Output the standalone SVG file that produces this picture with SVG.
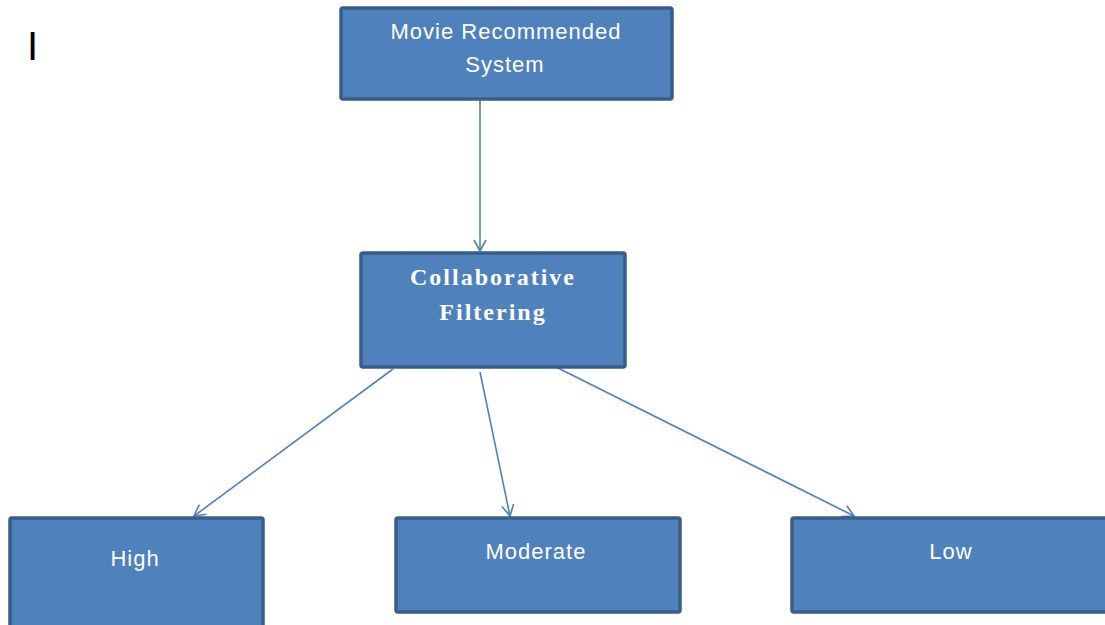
<svg xmlns="http://www.w3.org/2000/svg" width="1105" height="625" viewBox="0 0 1105 625">
<style>
.box{fill:#4F81BD;stroke:#385D8A;stroke-width:3.5}
.lbl{fill:#FFFFFF;font-family:"Liberation Sans","Open Sans",sans-serif;font-size:22px;text-anchor:middle;letter-spacing:1px}
.bold{fill:#FFFFFF;font-family:"Liberation Serif",serif;font-size:24px;font-weight:bold;text-anchor:middle;letter-spacing:2px}
.conn{stroke:#4F81BD;stroke-width:1.6;fill:none;marker-end:url(#arr)}
</style>
<defs>
<marker id="arr" markerWidth="14" markerHeight="14" refX="12" refY="7" orient="auto" markerUnits="userSpaceOnUse">
<path d="M1,1 L12,7 L1,13" fill="none" stroke="#4F81BD" stroke-width="1.6"/>
</marker>
</defs>
<rect width="1105" height="625" fill="#FFFFFF"/>
<text x="27" y="60" font-family="Liberation Sans,sans-serif" font-size="40" fill="#000000">I</text>
<g id="connectors">
<line class="conn" x1="480" y1="100" x2="480" y2="251"/>
<line class="conn" x1="393" y1="369" x2="194" y2="516"/>
<line class="conn" x1="480" y1="372" x2="510" y2="516"/>
<line class="conn" x1="556" y1="367" x2="854" y2="516"/>
</g>
<g id="movie">
<rect class="box" x="341" y="8" width="331" height="91" rx="2"/>
<text class="lbl" x="506" y="39">Movie Recommended</text>
<text class="lbl" x="505" y="72">System</text>
</g>
<g id="collab">
<rect class="box" x="361" y="253" width="264" height="114" rx="2"/>
<text class="bold" x="493" y="285">Collaborative</text>
<text class="bold" x="493" y="320">Filtering</text>
</g>
<g id="high">
<rect class="box" x="10" y="518" width="253" height="120" rx="2"/>
<text class="lbl" x="135" y="566">High</text>
</g>
<g id="moderate">
<rect class="box" x="396" y="518" width="284" height="94" rx="2"/>
<text class="lbl" x="536" y="559">Moderate</text>
</g>
<g id="low">
<rect class="box" x="792" y="518" width="330" height="94" rx="2"/>
<text class="lbl" x="951" y="559">Low</text>
</g>
</svg>
